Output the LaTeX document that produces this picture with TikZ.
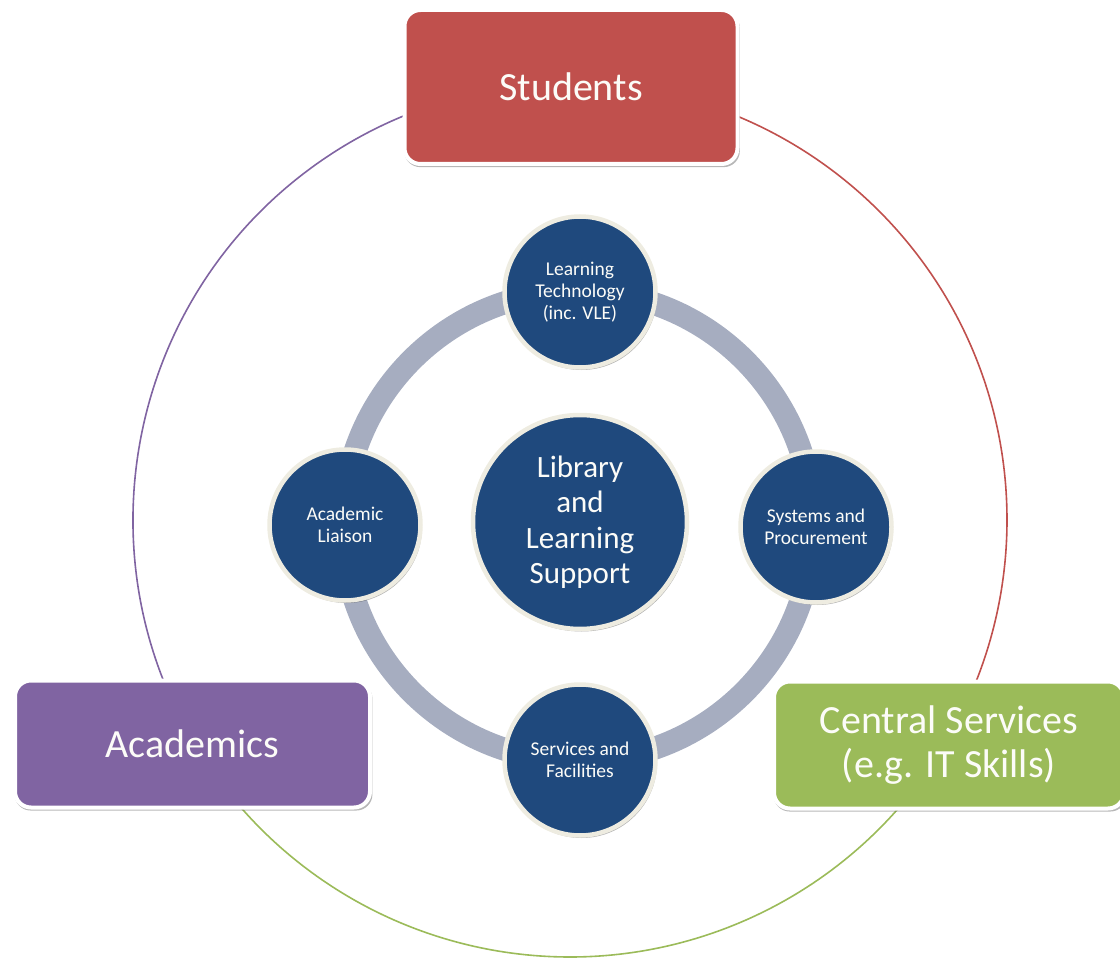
\documentclass[tikz,border=0pt]{standalone}
\usepackage{fontspec}
\setmainfont{Carlito}
\usetikzlibrary{shadows,calc}
\definecolor{cred}{HTML}{C0504D}
\definecolor{cpurple}{HTML}{8064A2}
\definecolor{cgreen}{HTML}{9BBB59}
\definecolor{cblue}{HTML}{1F497D}
\definecolor{ccream}{HTML}{EEECE1}
\definecolor{cring}{HTML}{A6ADC0}
\definecolor{ctext}{HTML}{FCFCF8}
\tikzset{
  box/.style={draw=white, line width=4pt, rounded corners=16pt, text=ctext,
    align=center, font=\fontsize{40}{44}\selectfont,
    drop shadow={shadow xshift=1pt, shadow yshift=-2.5pt, shadow scale=1.008, opacity=0.4, fill=black!70}},
  smallc/.style={circle, draw=ccream, line width=4.5pt, fill=cblue, text=ctext,
    minimum size=151pt, inner sep=0pt, align=center,
    font=\fontsize{19.5}{22}\selectfont,
    drop shadow={shadow xshift=1.5pt, shadow yshift=-2.5pt, opacity=0.3, fill=black}},
  bigc/.style={circle, draw=ccream, line width=4.5pt, fill=cblue, text=ctext,
    minimum size=214pt, inner sep=0pt, align=center,
    font=\fontsize{31}{35.5}\selectfont,
    drop shadow={shadow xshift=1.5pt, shadow yshift=-2.5pt, opacity=0.3, fill=black}},
  outerarc/.style={line width=1.6pt},
}
\begin{document}
\begin{tikzpicture}[x=1pt,y=-1pt]
\useasboundingbox (0,0) rectangle (1120,960);
\coordinate (C) at (570,520);
\coordinate (R) at (578,526);
% outer coloured circle
\draw[outerarc, cpurple] ($(C)+(215:437pt)$) arc[start angle=215, end angle=90, radius=437pt];
\draw[outerarc, cred] ($(C)+(90:437pt)$) arc[start angle=90, end angle=-35, radius=437pt];
\draw[outerarc, cgreen] ($(C)+(-35:437pt)$) arc[start angle=-35, end angle=-145, radius=437pt];
% inner ring
\draw[cring, line width=23pt] (R) circle[radius=235pt];
% circles
\node[bigc] (lls) at (580,522) {Library\\and\\Learning\\Support};
\node[smallc] (lt) at (580,292) {Learning\\Technology\\(inc. VLE)};
\node[smallc] (al) at (345,525) {Academic\\Liaison};
\node[smallc] (sp) at (816,527) {Systems and\\Procurement};
\node[smallc] (sf) at (580,760) {Services and\\Facilities};
% boxes
\node[box, fill=cred, minimum width=333pt, minimum height=154pt] (stu) at (571,87) {Students};
\node[box, fill=cpurple, minimum width=355pt, minimum height=127pt] (aca) at (192.5,744) {Academics};
\node[box, fill=cgreen, minimum width=350pt, minimum height=127pt] (cen) at (949,745) {Central Services\\(e.g. IT Skills)};
\end{tikzpicture}
\end{document}
